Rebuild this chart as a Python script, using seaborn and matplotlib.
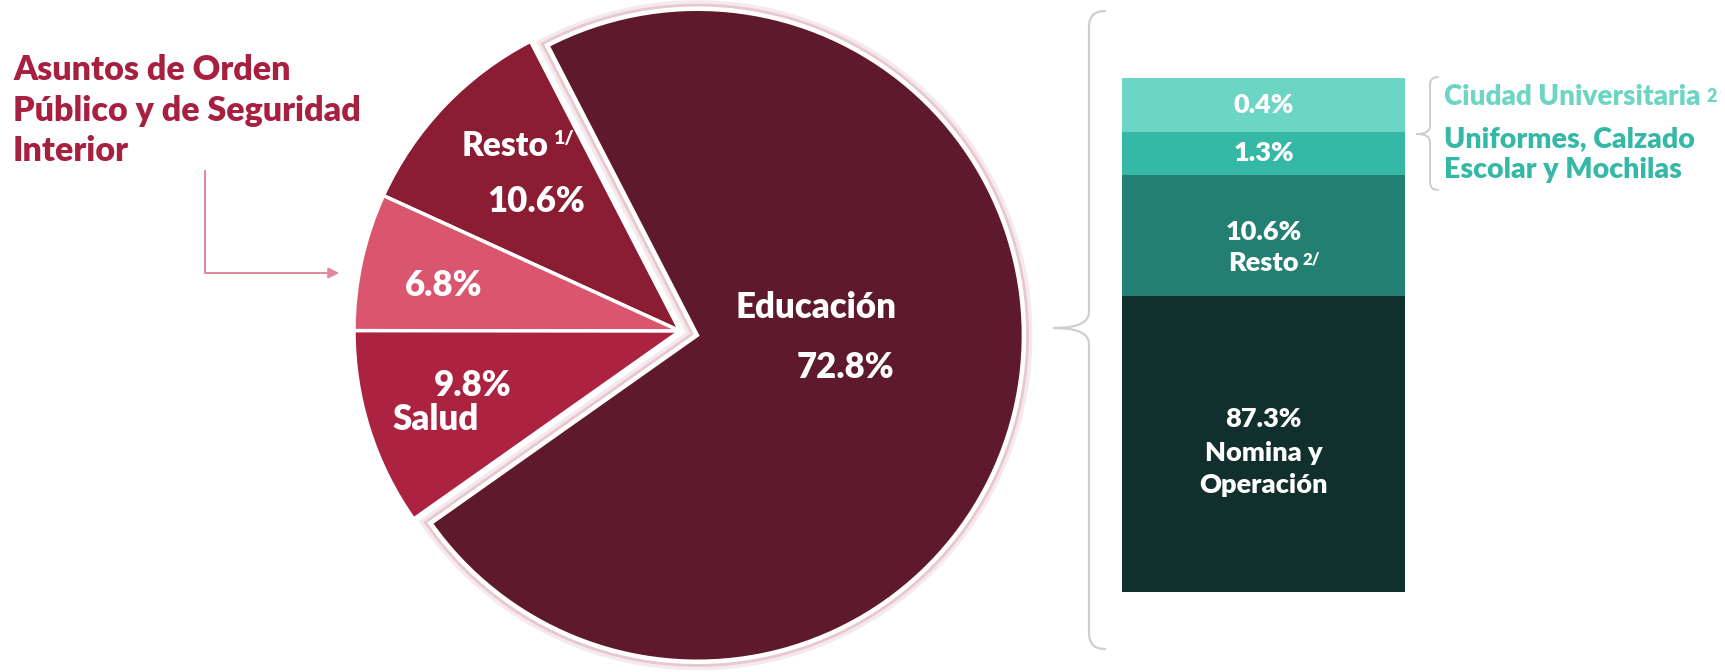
import numpy as np
import matplotlib
matplotlib.use("Agg")
import matplotlib.pyplot as plt
import matplotlib.patheffects as pe
from matplotlib.path import Path
from matplotlib.patches import PathPatch
import seaborn as sns

# Gasto por finalidad (porcentaje del total)
func_labels = ["Resto", "Asuntos de Orden Público y de Seguridad Interior", "Salud", "Educación"]
func_shares = [10.6, 6.8, 9.8, 72.8]
func_colors = ["#8a1c33", "#d9566e", "#ac2241", "#5e1a2c"]

# Desglose de Educación, de arriba hacia abajo
edu_labels = ["Ciudad Universitaria", "Uniformes, Calzado Escolar y Mochilas", "Resto", "Nomina y Operación"]
edu_shares = [0.4, 1.3, 10.6, 87.3]
edu_colors = ["#6dd5c4", "#35b8a6", "#237f72", "#11302d"]

sns.set_theme(style="white")
plt.rcParams["font.family"] = ["Lato", "DejaVu Sans"]
FW = "heavy"

W, H = 1725, 672
fig = plt.figure(figsize=(W / 100, H / 100), dpi=100)
fig.patch.set_facecolor("white")

# ---- pie ----
cx, cy, R = 680, 331, 326
pie_l, pie_r = 300, 1060
ax_pie = fig.add_axes([pie_l / W, 0, (pie_r - pie_l) / W, 1])
wedges, _ = ax_pie.pie(
    func_shares, colors=func_colors, startangle=117.3, counterclock=True,
    explode=[0, 0, 0, 0.055], radius=1,
    wedgeprops=dict(edgecolor="white", linewidth=2.5),
)
ax_pie.set_aspect("auto")
ax_pie.set_xlim((pie_l - cx) / R, (pie_r - cx) / R)
ax_pie.set_ylim(-(H - cy) / R, cy / R)
ax_pie.axis("off")
wedges[3].set_path_effects([
    pe.Stroke(linewidth=13, foreground="#ecd5db", alpha=0.5),
    pe.Stroke(linewidth=8, foreground="#dfb3be", alpha=0.6),
    pe.Stroke(linewidth=4, foreground="white"),
    pe.Normal(),
])

# ---- stacked bar (compressed power scale measured from the top) ----
bar_l, bar_r, bar_t, bar_b = 1122, 1405, 78, 592
ax_bar = fig.add_axes([bar_l / W, (H - bar_b) / H, (bar_r - bar_l) / W, (bar_b - bar_t) / H])
p = 0.41
fwd = lambda v: np.power(np.clip(v, 0, None), p)
inv = lambda v: np.power(np.clip(v, 0, None), 1 / p)
ends = np.cumsum(edu_shares)
starts = ends - np.array(edu_shares)
for end, color in reversed(list(zip(ends, edu_colors))):
    sns.barplot(x=[0], y=[end], color=color, width=1, saturation=1,
                linewidth=0, errorbar=None, ax=ax_bar)
ax_bar.set_yscale("function", functions=(fwd, inv))
ax_bar.set_xlim(-0.5, 0.5)
ax_bar.set_ylim(ends[-1], 0)
ax_bar.axis("off")

def seg_center_px(s, e):
    f = (fwd(s) + fwd(e)) / 2 / fwd(ends[-1])
    return bar_t + f * (bar_b - bar_t)

# ---- overlay for text and connectors ----
ov = fig.add_axes([0, 0, 1, 1])
ov.set_xlim(0, W)
ov.set_ylim(H, 0)
ov.axis("off")
ov.patch.set_visible(False)

white = dict(color="white", fontweight=FW, ha="center", va="center")

# caption of the highlighted slice
title_c = "#a8203f"
for txt, y in zip(["Asuntos de Orden", "Público y de Seguridad", "Interior"], [70, 111, 151]):
    ov.text(13, y, txt, color=title_c, fontsize=24.5, fontweight=FW, ha="left", va="center")

# arrow
arr_c = "#e3869a"
ov.plot([205, 205, 320], [170, 273, 273], color=arr_c, lw=1.4, solid_capstyle="butt")
ov.annotate("", xy=(342, 273), xytext=(318, 273),
            arrowprops=dict(arrowstyle="-|>", color=arr_c, lw=1.4, mutation_scale=16))

# pie labels
t_resto = ov.text(505, 146, func_labels[0], fontsize=24, **white)
ov.annotate("1/", xy=(1, 1), xycoords=t_resto, xytext=(3, 0), textcoords="offset points",
            color="white", fontsize=14, fontweight=FW, ha="left", va="top")
ov.text(536, 202, f"{func_shares[0]:.1f}%", fontsize=25, **white)
ov.text(444, 286, f"{func_shares[1]:.1f}%", fontsize=25, **white)
ov.text(473, 386, f"{func_shares[2]:.1f}%", fontsize=25, **white)
ov.text(436, 419, func_labels[2], fontsize=25, **white)
ov.text(816, 307, func_labels[3], fontsize=25, **white)
ov.text(845, 368, f"{func_shares[3]:.1f}%", fontsize=25, **white)

# bar labels
bx = (bar_l + bar_r) / 2
y0 = seg_center_px(starts[0], ends[0])
ov.text(bx, y0, f"{edu_shares[0]:.1f}%", fontsize=19.5, **white)
y1 = seg_center_px(starts[1], ends[1])
ov.text(bx, y1, f"{edu_shares[1]:.1f}%", fontsize=19.5, **white)
y2 = seg_center_px(starts[2], ends[2])
ov.text(bx, y2 - 3, f"{edu_shares[2]:.1f}%", fontsize=19.5, **white)
t_r2 = ov.text(bx, y2 + 28, edu_labels[2], fontsize=19.5, **white)
ov.annotate("2/", xy=(1, 1), xycoords=t_r2, xytext=(3, 0), textcoords="offset points",
            color="white", fontsize=12, fontweight=FW, ha="left", va="top")
y3 = seg_center_px(starts[3], ends[3])
ov.text(bx, y3 - 25, f"{edu_shares[3]:.1f}%", fontsize=19.5, **white)
ov.text(bx, y3 + 9, "Nomina y", fontsize=19.5, **white)
ov.text(bx, y3 + 41, "Operación", fontsize=19.5, **white)

# side labels
t_cu = ov.text(1444, 97, edu_labels[0], color=edu_colors[0], fontsize=20,
               fontweight=FW, ha="left", va="center")
ov.annotate("2", xy=(1, 0.5), xycoords=t_cu, xytext=(4, 0), textcoords="offset points",
            color=edu_colors[0], fontsize=13, fontweight=FW, ha="left", va="center")
ov.text(1444, 139, "Uniformes, Calzado", color=edu_colors[1], fontsize=20.5,
        fontweight=FW, ha="left", va="center")
ov.text(1444, 170, "Escolar y Mochilas", color=edu_colors[1], fontsize=20.5,
        fontweight=FW, ha="left", va="center")

# curly braces
def brace(x, y0, y1, tip, r, color, lw):
    tx, ym = tip
    verts = [
        (x + r, y0), (x, y0), (x, y0 + r),
        (x, ym - r), (x, ym), (tx, ym),
        (tx, ym), (x, ym), (x, ym + r),
        (x, y1 - r), (x, y1), (x + r, y1),
    ]
    codes = [Path.MOVETO, Path.CURVE3, Path.CURVE3,
             Path.LINETO, Path.CURVE3, Path.CURVE3,
             Path.MOVETO, Path.CURVE3, Path.CURVE3,
             Path.LINETO, Path.CURVE3, Path.CURVE3]
    ov.add_patch(PathPatch(Path(verts, codes), fill=False, edgecolor=color, lw=lw,
                           capstyle="round", joinstyle="round"))

brace(1089, 11, 649, (1054, 328), 16, "#cfcfcf", 1.6)
brace(1430, 77, 190, (1417, 134), 8, "#c9cfcd", 1.4)

fig.savefig("out.png", dpi=100, facecolor="white")
